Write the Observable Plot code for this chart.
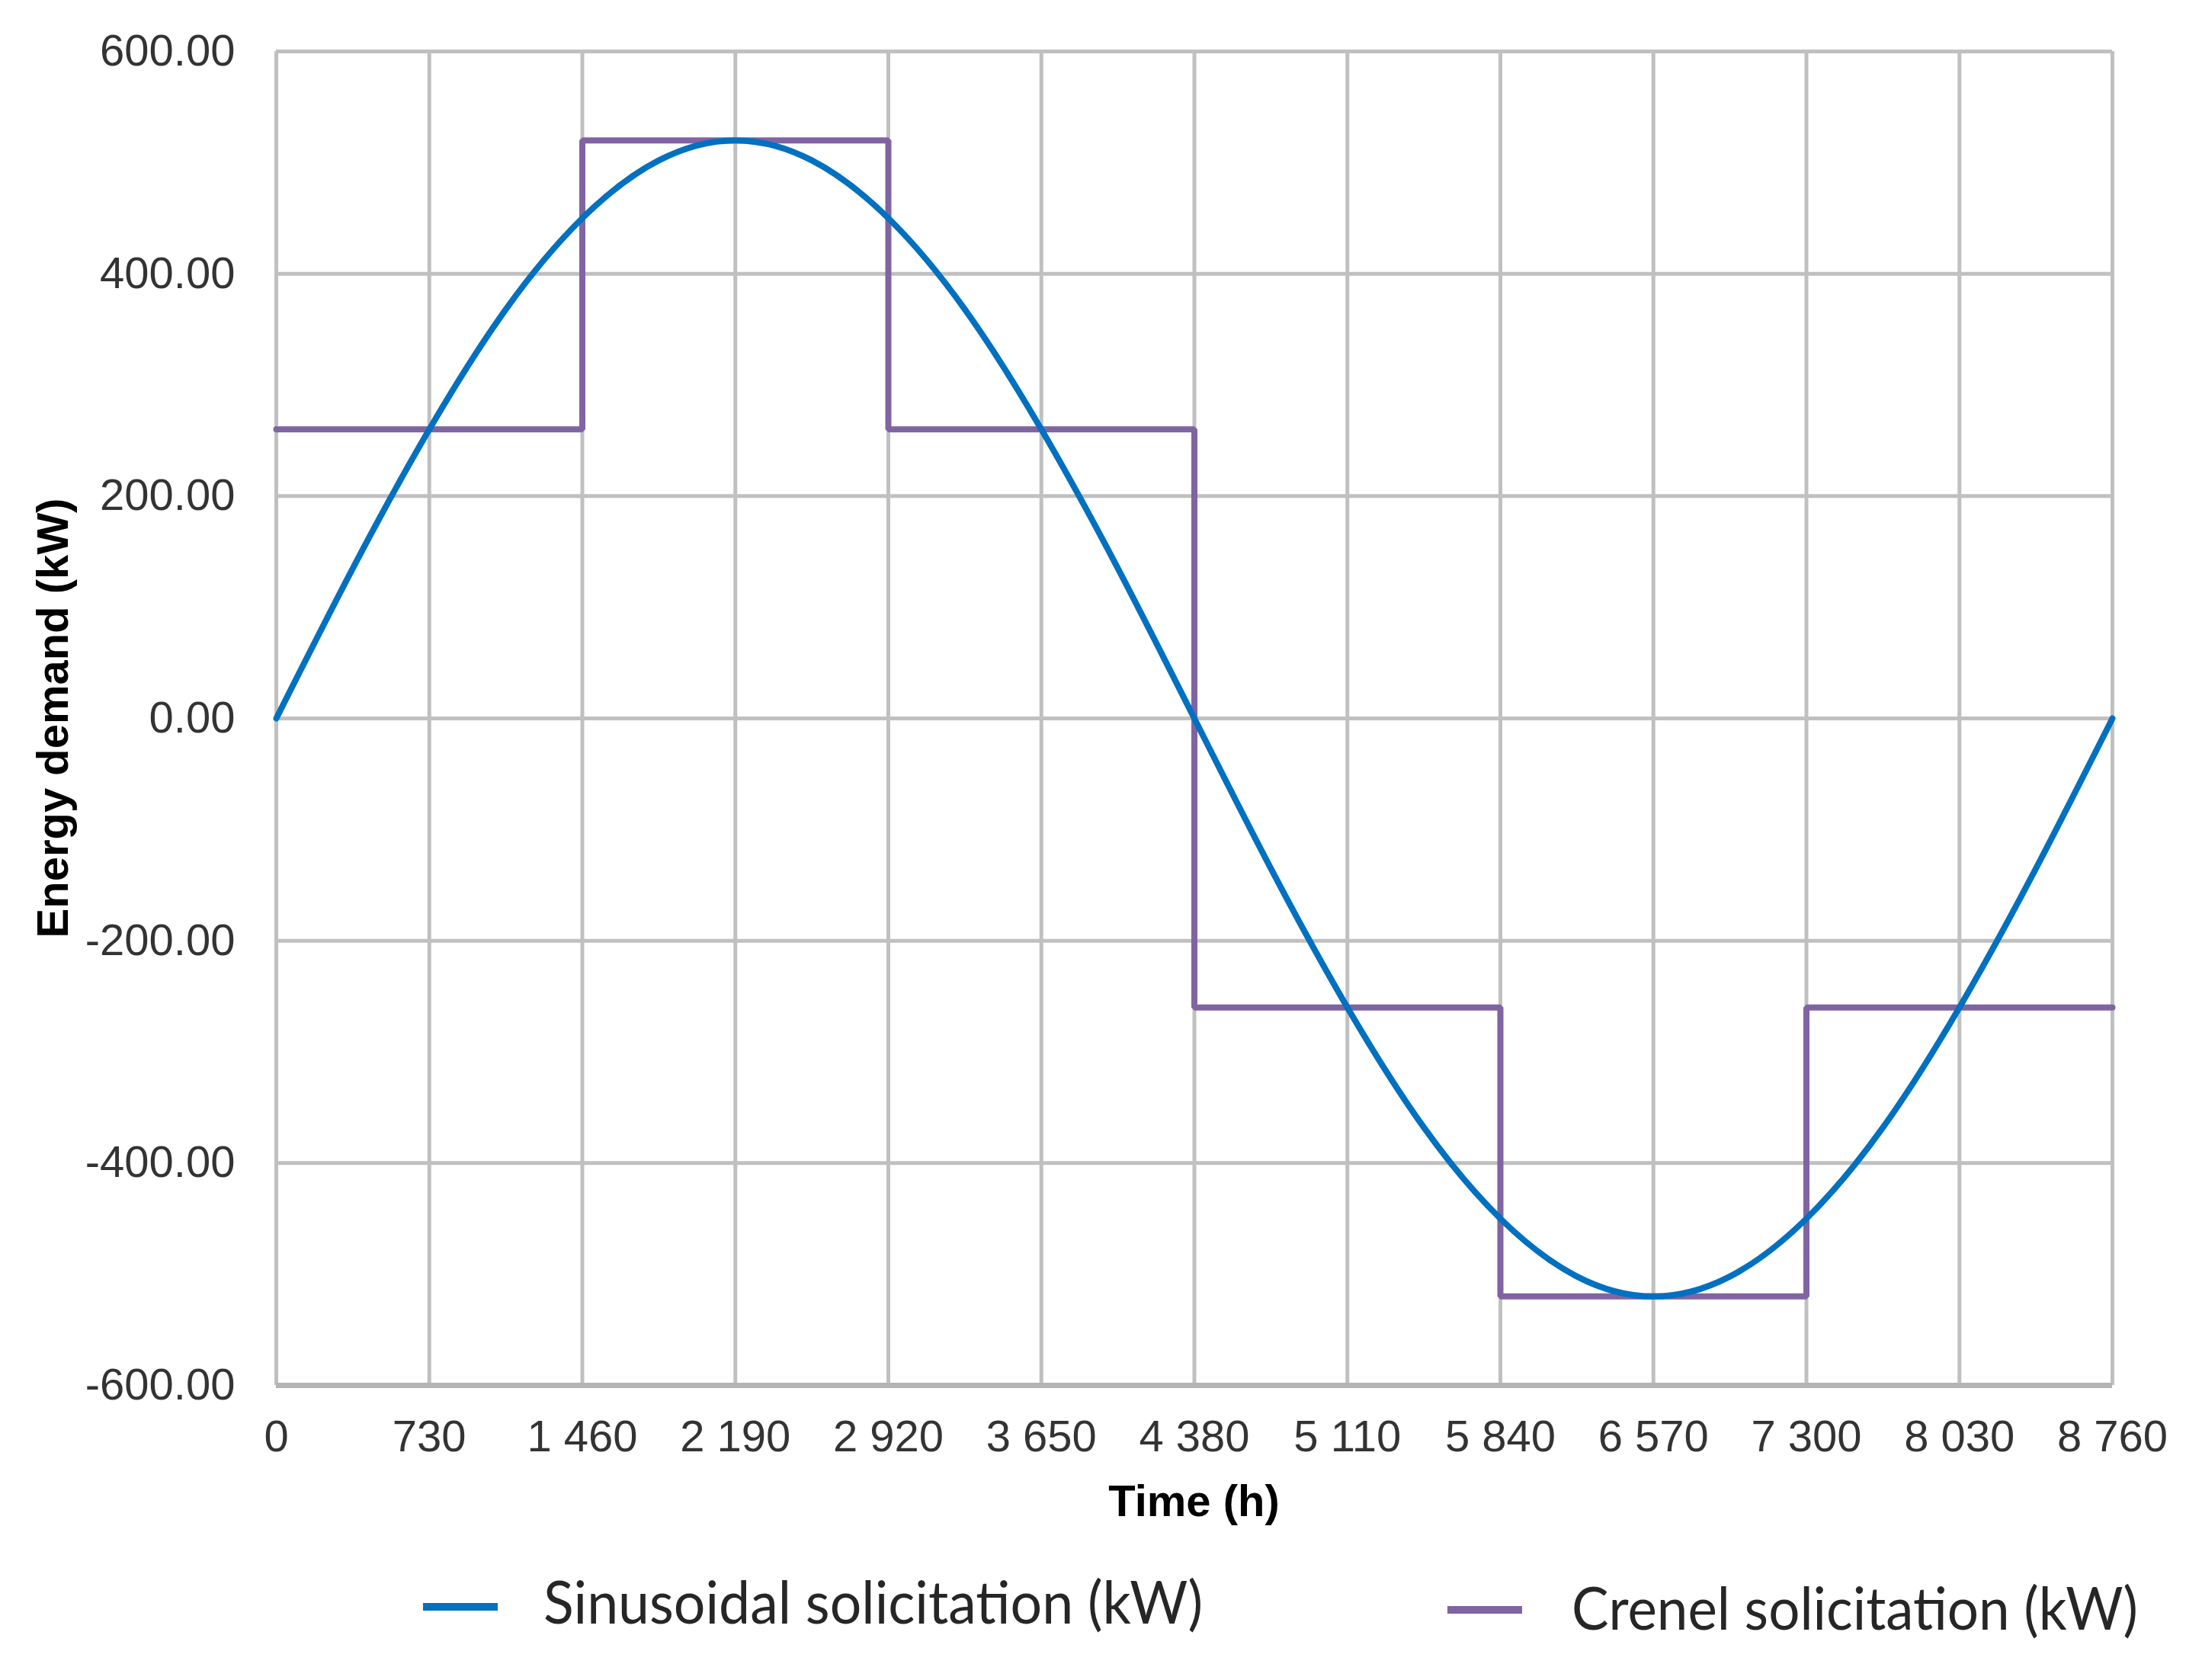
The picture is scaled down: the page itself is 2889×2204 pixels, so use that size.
<!DOCTYPE html>
<html>
<head>
<meta charset="utf-8">
<script src="https://cdn.jsdelivr.net/npm/d3@7"></script>
<script src="https://cdn.jsdelivr.net/npm/@observablehq/plot@0.6"></script>
<style>
  html, body { margin: 0; padding: 0; background: #fff; }
  #chart svg { display: block; }
</style>
</head>
<body>
<div id="chart"></div>
<script>
// ---- data ----
const xTicks = [0, 730, 1460, 2190, 2920, 3650, 4380, 5110, 5840, 6570, 7300, 8030, 8760];
const xTickLabels = ["0", "730", "1 460", "2 190", "2 920", "3 650", "4 380", "5 110", "5 840", "6 570", "7 300", "8 030", "8 760"];
const yTicks = [-600, -400, -200, 0, 200, 400, 600];
const yTickLabels = ["-600.00", "-400.00", "-200.00", "0.00", "200.00", "400.00", "600.00"];

const sineTime = [0, 365, 730, 1095, 1460, 1825, 2190, 2555, 2920, 3285, 3650, 4015, 4380,
                  4745, 5110, 5475, 5840, 6205, 6570, 6935, 7300, 7665, 8030, 8395, 8760];
const sineValue = [0, 135, 260, 368, 450, 502, 520, 502, 450, 368, 260, 135, 0,
                   -135, -260, -368, -450, -502, -520, -502, -450, -368, -260, -135, 0];

const crenelTime = [0, 1460, 2920, 4380, 5840, 7300, 8760];
const crenelValue = [260, 520, 260, -260, -520, -260, -260];

const seriesNames = ["Sinusoidal solicitation (kW)", "Crenel solicitation (kW)"];
const seriesColors = ["#0070C0", "#8064A2"];
const xTitle = "Time (h)";
const yTitle = "Energy demand (kW)";

// ---- layout ----
const W = 2889, H = 2040;
const mL = 362, mR = 118, mT = 67, mB = 223;
const font = "'Liberation Sans', Arial, sans-serif";

const sine = sineTime.map((t, i) => ({t, v: sineValue[i]}));
const crenel = crenelTime.map((t, i) => ({t, v: crenelValue[i]}));

const chart = Plot.plot({
  width: W,
  height: H,
  marginLeft: mL,
  marginRight: mR,
  marginTop: mT,
  marginBottom: mB,
  style: {fontFamily: font, fontSize: "58px", color: "#333", background: "#fff", overflow: "visible"},
  x: {
    domain: [0, 8760],
    ticks: xTicks,
    tickFormat: d => xTickLabels[xTicks.indexOf(d)],
    tickSize: 0,
    tickPadding: 45,
    label: null,
    line: false
  },
  y: {
    domain: [-600, 600],
    ticks: yTicks,
    tickFormat: d => yTickLabels[yTicks.indexOf(d)],
    tickSize: 0,
    tickPadding: 54,
    label: null,
    line: false
  },
  marks: [
    Plot.ruleX(xTicks, {stroke: "#c0c0c0", strokeWidth: 5}),
    Plot.ruleY(yTicks, {stroke: "#c0c0c0", strokeWidth: 5}),
    Plot.ruleY([-600], {stroke: "#b4b4b4", strokeWidth: 7}),
    Plot.line(crenel, {x: "t", y: "v", stroke: seriesColors[1], strokeWidth: 8, curve: "step-after", strokeLinejoin: "miter"}),
    Plot.line(sine, {x: "t", y: "v", stroke: seriesColors[0], strokeWidth: 8, curve: "natural"})
  ]
});

// axis titles
const svg = d3.select(chart);
svg.append("text")
  .attr("x", (mL + (W - mR)) / 2)
  .attr("y", 1989)
  .attr("text-anchor", "middle")
  .attr("font-family", font)
  .attr("font-size", 58)
  .attr("font-weight", "bold")
  .attr("fill", "#000")
  .text(xTitle);
svg.append("text")
  .attr("transform", `translate(89,${(mT + (H - mB)) / 2}) rotate(-90)`)
  .attr("text-anchor", "middle")
  .attr("font-family", font)
  .attr("font-size", 58)
  .attr("font-weight", "bold")
  .attr("fill", "#000")
  .text(yTitle);

document.getElementById("chart").appendChild(chart);

// legend below
const legend = d3.create("svg")
  .attr("width", W)
  .attr("height", 2204 - H)
  .style("display", "block");
const items = [
  {swX: 555, swY: 63, textX: 713, baseY: 90, len: 865},
  {swX: 1899, swY: 67, textX: 2062, baseY: 98, len: 743}
];
items.forEach((it, i) => {
  legend.append("rect")
    .attr("x", it.swX).attr("y", it.swY)
    .attr("width", 98).attr("height", 10)
    .attr("fill", seriesColors[i]);
  legend.append("text")
    .attr("x", it.textX).attr("y", it.baseY)
    .attr("font-family", "Lato, 'Open Sans', sans-serif")
    .attr("font-size", 78)
    .attr("fill", "#262626")
    .attr("textLength", it.len)
    .attr("lengthAdjust", "spacingAndGlyphs")
    .text(seriesNames[i]);
});
document.getElementById("chart").appendChild(legend.node());
</script>
</body>
</html>
